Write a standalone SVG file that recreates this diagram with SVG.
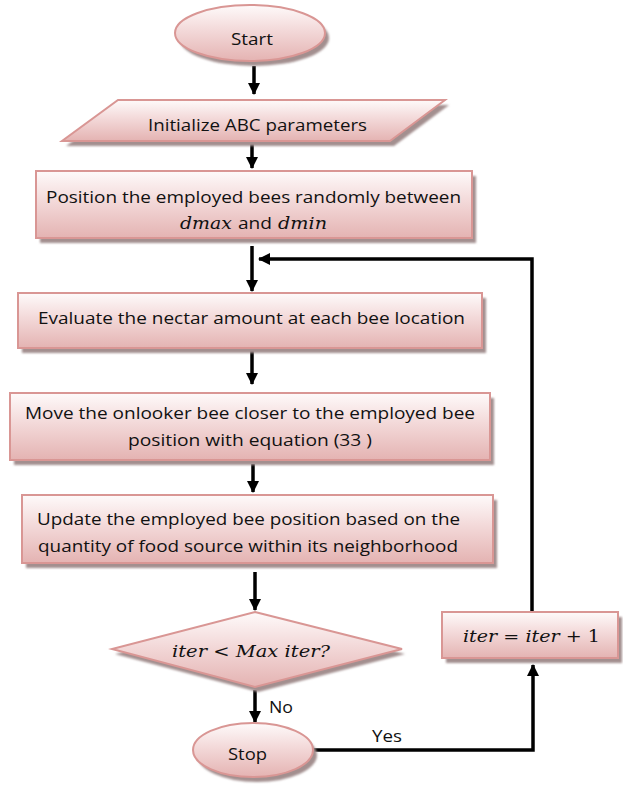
<svg xmlns="http://www.w3.org/2000/svg" width="623" height="788" viewBox="0 0 623 788">
<style>
.node{fill:url(#g);stroke:#d99694;stroke-width:2}
.sh{fill:#a38f8f;filter:url(#blur)}
.t{font-family:"Open Sans","Liberation Sans",sans-serif;font-size:17px;fill:#111;}
.m{font-family:"DejaVu Serif","Liberation Serif",serif;font-style:italic;font-size:17px;fill:#111;}
.u{font-style:normal;}
.c{fill:none;stroke:#000;stroke-width:3.5;}
</style>
<defs>
<linearGradient id="g" x1="0" y1="0" x2="0" y2="1">
<stop offset="0" stop-color="#fefafa"/>
<stop offset="0.45" stop-color="#f3d9d9"/>
<stop offset="1" stop-color="#e4b3b2"/>
</linearGradient>
<filter id="blur" x="-10%" y="-10%" width="120%" height="130%"><feGaussianBlur stdDeviation="1"/></filter>
<marker id="ah" viewBox="0 0 12 12" refX="11" refY="6" markerWidth="12" markerHeight="12" orient="auto" markerUnits="userSpaceOnUse">
<path d="M0,0 L12,6 L0,12 z" fill="#000"/>
</marker>
</defs>

<g id="connectors">
<path class="c" d="M254,66 L254,94" marker-end="url(#ah)"/>
<path class="c" d="M252,144 L252,168" marker-end="url(#ah)"/>
<path class="c" d="M252,246 L252,291" marker-end="url(#ah)"/>
<path class="c" d="M252,350 L252,384" marker-end="url(#ah)"/>
<path class="c" d="M253,464 L253,492" marker-end="url(#ah)"/>
<path class="c" d="M255,572 L255,610" marker-end="url(#ah)"/>
<path class="c" d="M255,690 L255,722" marker-end="url(#ah)"/>
<path class="c" d="M313,750 L533,750 L533,665" marker-end="url(#ah)"/>
<path class="c" d="M532,612 L532,259 L259,259" marker-end="url(#ah)"/>
<text class="t" x="269" y="713" textLength="24" lengthAdjust="spacingAndGlyphs">No</text>
<text class="t" x="372" y="742" textLength="30" lengthAdjust="spacingAndGlyphs">Yes</text>
</g>

<g id="start">
<ellipse class="sh" cx="254" cy="38" rx="75" ry="28"/>
<ellipse class="node" cx="250" cy="33" rx="75" ry="28"/>
<text class="t" x="231" y="45" textLength="42" lengthAdjust="spacingAndGlyphs">Start</text>
</g>

<g id="init">
<polygon class="sh" points="122,105 449,105 394,146 66,146"/>
<polygon class="node" points="118,100 445,100 390,141 62,141"/>
<text class="t" x="148" y="131" textLength="219" lengthAdjust="spacingAndGlyphs">Initialize ABC parameters</text>
</g>

<g id="position">
<rect class="sh" x="40" y="176" width="436" height="67"/>
<rect class="node" x="36" y="171" width="436" height="67"/>
<text class="t" x="46" y="203" textLength="415" lengthAdjust="spacingAndGlyphs">Position the employed bees randomly between</text>
<text class="m" x="180" y="229" textLength="52" lengthAdjust="spacingAndGlyphs">dmax</text>
<text class="t" x="238" y="229" textLength="34" lengthAdjust="spacingAndGlyphs">and</text>
<text class="m" x="278" y="229" textLength="49" lengthAdjust="spacingAndGlyphs">dmin</text>
</g>

<g id="evaluate">
<rect class="sh" x="22" y="298" width="464" height="55"/>
<rect class="node" x="18" y="293" width="464" height="55"/>
<text class="t" x="38" y="324" textLength="427" lengthAdjust="spacingAndGlyphs">Evaluate the nectar amount at each bee location</text>
</g>

<g id="move">
<rect class="sh" x="14" y="398" width="480" height="67"/>
<rect class="node" x="10" y="393" width="480" height="67"/>
<text class="t" x="25" y="419" textLength="450" lengthAdjust="spacingAndGlyphs">Move the onlooker bee closer to the employed bee</text>
<text class="t" x="128" y="446" textLength="244" lengthAdjust="spacingAndGlyphs">position with equation (33 )</text>
</g>

<g id="update">
<rect class="sh" x="26" y="500" width="471" height="68"/>
<rect class="node" x="22" y="495" width="471" height="68"/>
<text class="t" x="37" y="525" textLength="423" lengthAdjust="spacingAndGlyphs">Update the employed bee position based on the</text>
<text class="t" x="38" y="552" textLength="420" lengthAdjust="spacingAndGlyphs">quantity of food source within its neighborhood</text>
</g>

<g id="decision">
<polygon class="sh" points="258,617 405,654 258,692 115,654"/>
<polygon class="node" points="255,612 402,649 255,687 112,649"/>
<text class="m" x="172" y="657" textLength="158" lengthAdjust="spacingAndGlyphs">iter <tspan class="u">&lt;</tspan> Max iter?</text>
</g>

<g id="stop">
<ellipse class="sh" cx="257" cy="755" rx="60" ry="27"/>
<ellipse class="node" cx="253" cy="750" rx="60" ry="27"/>
<text class="t" x="228" y="760" textLength="39" lengthAdjust="spacingAndGlyphs">Stop</text>
</g>

<g id="increment">
<rect class="sh" x="446" y="617" width="176" height="46"/>
<rect class="node" x="442" y="612" width="176" height="46"/>
<text class="m" x="463" y="642" textLength="137" lengthAdjust="spacingAndGlyphs">iter <tspan class="u">= </tspan>iter <tspan class="u">+ 1</tspan></text>
</g>
</svg>
